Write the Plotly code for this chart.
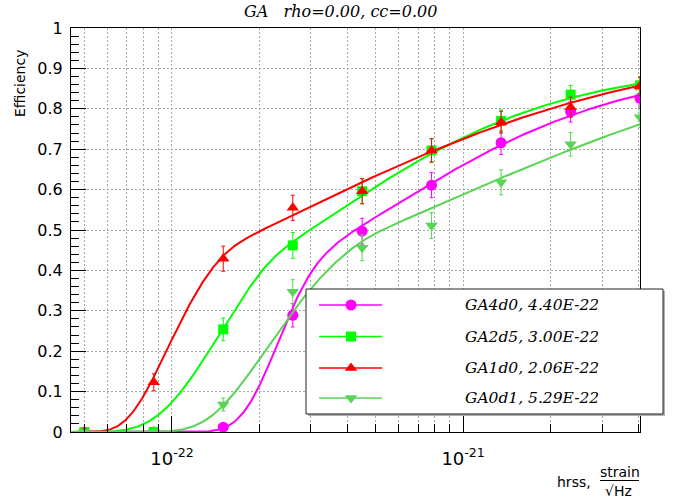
import math
import numpy as np
import plotly.graph_objects as go

# ---------------- data ----------------
hrss = [5.0e-23, 8.66e-23, 1.5e-22, 2.6e-22, 4.5e-22, 7.79e-22, 1.35e-21, 2.34e-21, 4.05e-21]

series_names = ["GA4d0", "GA2d5", "GA1d0", "GA0d1"]
hrss50_text = ["4.40E-22", "3.00E-22", "2.06E-22", "5.29E-22"]

eff_GA4d0 = [0.0, 0.0, 0.012, 0.289, 0.497, 0.611, 0.716, 0.793, 0.826]
err_GA4d0 = [0.0, 0.0, 0.007, 0.029, 0.032, 0.031, 0.029, 0.026, 0.024]
eff_GA2d5 = [0.0, 0.0, 0.254, 0.462, 0.596, 0.697, 0.770, 0.835, 0.858]
err_GA2d5 = [0.0, 0.0, 0.028, 0.032, 0.031, 0.029, 0.027, 0.023, 0.022]
eff_GA1d0 = [0.0, 0.123, 0.429, 0.555, 0.596, 0.697, 0.767, 0.804, 0.856]
err_GA1d0 = [0.0, 0.021, 0.031, 0.031, 0.031, 0.029, 0.027, 0.025, 0.022]
eff_GA0d1 = [0.0, 0.0, 0.068, 0.347, 0.456, 0.511, 0.618, 0.712, 0.779]
err_GA0d1 = [0.0, 0.0, 0.016, 0.030, 0.032, 0.032, 0.031, 0.029, 0.026]

# fit parameters (asymmetric log-normal efficiency fit):
# A, log10 centre, sigma_left, k, sigma_right, transition width
fit_GA4d0 = [0.90, -21.460, 0.300, 1.83, 0.735, 0.07]
fit_GA2d5 = [0.90, -21.622, 0.469, 1.45, 0.710, 0.05]
fit_GA1d0 = [0.95, -21.755, 0.700, 2.90, 1.050, 0.05]
fit_GA0d1 = [1.00, -21.277, 1.065, 1.97, 1.240, 0.05]

x_range = [4.5e-23, 4.05e-21]
decade_ticks = [1e-22, 1e-21]
decade_labels = ["10<sup>-22</sup>", "10<sup>-21</sup>"]

effs = [eff_GA4d0, eff_GA2d5, eff_GA1d0, eff_GA0d1]
errs = [err_GA4d0, err_GA2d5, err_GA1d0, err_GA0d1]
fits = [fit_GA4d0, fit_GA2d5, fit_GA1d0, fit_GA0d1]

colors = ["#ff00ff", "#00ff00", "#ff0000", "#59d454"]
symbols = ["circle", "square", "triangle-up", "triangle-down"]
msizes = [11, 10, 11, 11]

# ---------------- geometry (pixels) ----------------
W, H = 673, 501
ML, MR, MT, MB = 71, 5, 28, 69
PW = W - ML - MR
PH = H - MT - MB
MAIN_RIGHT = 640


def px(x):
    return (x - ML) / PW


def py(y):
    return (H - MB - y) / PH


_erf = np.vectorize(math.erf)


def eff_fit(x, A, m, sL, k, sR, w):
    d = np.log10(x) - m
    s_left = sL * np.exp(k * np.minimum(d, 0.0))
    g = 1.0 / (1.0 + np.exp(-d / w))
    s = g * sR + (1.0 - g) * s_left
    z = d / s
    return A * 0.5 * (1.0 + _erf(z / math.sqrt(2.0)))


xs = np.logspace(math.log10(x_range[0]), math.log10(x_range[1]), 600)

fig = go.Figure()

for name, eff, err, fit, col, sym, ms in zip(series_names, effs, errs, fits, colors, symbols, msizes):
    fig.add_trace(go.Scatter(
        x=xs, y=eff_fit(xs, *fit), mode="lines",
        line=dict(color=col, width=2), showlegend=False, hoverinfo="skip"))
    fig.add_trace(go.Scatter(
        x=hrss, y=eff, mode="markers",
        marker=dict(color=col, symbol=sym, size=ms, line=dict(width=0)),
        error_y=dict(type="data", array=err, visible=True, color=col, thickness=1, width=2),
        showlegend=False, name=name))

# ---------------- legend (drawn on an overlay pixel subplot) ----------------
LX0, LX1, LY0, LY1 = 306, 663, 289, 414
fig.add_trace(go.Scatter(
    x=[LX0 + 2, LX1 + 2, LX1 + 2, LX0 + 2, LX0 + 2], y=[LY0 + 2, LY0 + 2, LY1 + 2, LY1 + 2, LY0 + 2],
    mode="lines", fill="toself", fillcolor="#b0b0b0", line=dict(color="#b0b0b0", width=0),
    xaxis="x2", yaxis="y2", showlegend=False, hoverinfo="skip"))
fig.add_trace(go.Scatter(
    x=[LX0, LX1, LX1, LX0, LX0], y=[LY0, LY0, LY1, LY1, LY0],
    mode="lines", fill="toself", fillcolor="white", line=dict(color="#222222", width=1),
    xaxis="x2", yaxis="y2", showlegend=False, hoverinfo="skip"))

rows = [305, 336.5, 368, 398]
for name, lab, col, sym, ms, ry in zip(series_names, hrss50_text, colors, symbols, msizes, rows):
    fig.add_trace(go.Scatter(
        x=[319, 382], y=[ry, ry], mode="lines", line=dict(color=col, width=1.3),
        xaxis="x2", yaxis="y2", showlegend=False, hoverinfo="skip"))
    fig.add_trace(go.Scatter(
        x=[351], y=[ry], mode="markers", marker=dict(color=col, symbol=sym, size=ms),
        xaxis="x2", yaxis="y2", showlegend=False, hoverinfo="skip"))
    fig.add_annotation(
        x=px(463), y=py(ry), xref="paper", yref="paper", xanchor="left", yanchor="middle",
        text="<i>%s, %s</i>" % (name, lab), showarrow=False,
        font=dict(family="DejaVu Serif", size=15.5, color="black"))

# ---------------- texts ----------------
fig.add_annotation(
    x=px(340.5), y=py(11.5), xref="paper", yref="paper", xanchor="center", yanchor="middle",
    text="<i>GA\u00a0\u00a0\u00a0rho=0.00, cc=0.00</i>", showarrow=False,
    font=dict(family="DejaVu Serif", size=16, color="black"))
fig.add_annotation(
    x=px(20), y=py(84), xref="paper", yref="paper", xanchor="center", yanchor="middle",
    text="Efficiency", textangle=-90, showarrow=False,
    font=dict(family="DejaVu Sans", size=14, color="black"))
fig.add_annotation(
    x=px(574), y=py(482), xref="paper", yref="paper", xanchor="center", yanchor="middle",
    text="hrss,", showarrow=False, font=dict(family="DejaVu Sans", size=14, color="black"))
fig.add_annotation(
    x=px(619.5), y=py(471.5), xref="paper", yref="paper", xanchor="center", yanchor="middle",
    text="strain", showarrow=False, font=dict(family="DejaVu Sans", size=14, color="black"))
fig.add_annotation(
    x=px(618), y=py(491), xref="paper", yref="paper", xanchor="center", yanchor="middle",
    text="\u221aHz", showarrow=False, font=dict(family="DejaVu Sans", size=14, color="black"))
fig.add_shape(type="line", xref="paper", yref="paper",
              x0=px(600), x1=px(639), y0=py(480.5), y1=py(480.5),
              line=dict(color="black", width=1))

# minor x ticks (2..9 per decade)
minor_vals = []
for e in range(-23, -20):
    for mnt in range(2, 10):
        v = mnt * 10.0 ** e
        if x_range[0] <= v <= x_range[1] * 1.0001:
            minor_vals.append(v)

grid_style = dict(showgrid=True, gridcolor="#a8a8a8", gridwidth=1, griddash="2px,2px")

fig.update_layout(
    width=W, height=H,
    margin=dict(l=ML, r=MR, t=MT, b=MB),
    paper_bgcolor="white", plot_bgcolor="rgba(0,0,0,0)",
    showlegend=False,
    font=dict(family="DejaVu Sans", color="black"),
    xaxis=dict(
        type="log", range=[math.log10(x_range[0]), math.log10(x_range[1])],
        domain=[0, (MAIN_RIGHT - ML) / PW],
        tickmode="array", tickvals=decade_ticks, ticktext=decade_labels,
        ticks="inside", ticklen=16, tickwidth=1, tickcolor="black",
        showline=True, linecolor="black", linewidth=1, mirror=True, zeroline=False,
        tickfont=dict(family="DejaVu Sans", size=18, color="black"),
        ticklabelstandoff=10,
        minor=dict(tickmode="array", tickvals=minor_vals, ticks="inside", ticklen=8,
                   tickcolor="black", tickwidth=1, **grid_style),
        **grid_style),
    yaxis=dict(
        range=[0, 1], tickmode="linear", tick0=0, dtick=0.1,
        ticks="inside", ticklen=15, tickwidth=1, tickcolor="black",
        showline=True, linecolor="black", linewidth=1, mirror=True, zeroline=False,
        tickfont=dict(family="DejaVu Sans", size=16, color="black"),
        ticklabelstandoff=4,
        minor=dict(dtick=0.02, ticks="inside", ticklen=8, tickcolor="black", tickwidth=1, showgrid=False),
        **grid_style),
    xaxis2=dict(domain=[0, 1], range=[ML, W - MR], anchor="y2", visible=False, fixedrange=True),
    yaxis2=dict(domain=[0, 1], range=[H - MB, MT], anchor="x2", visible=False, fixedrange=True),
)

fig.write_html("out.html")
